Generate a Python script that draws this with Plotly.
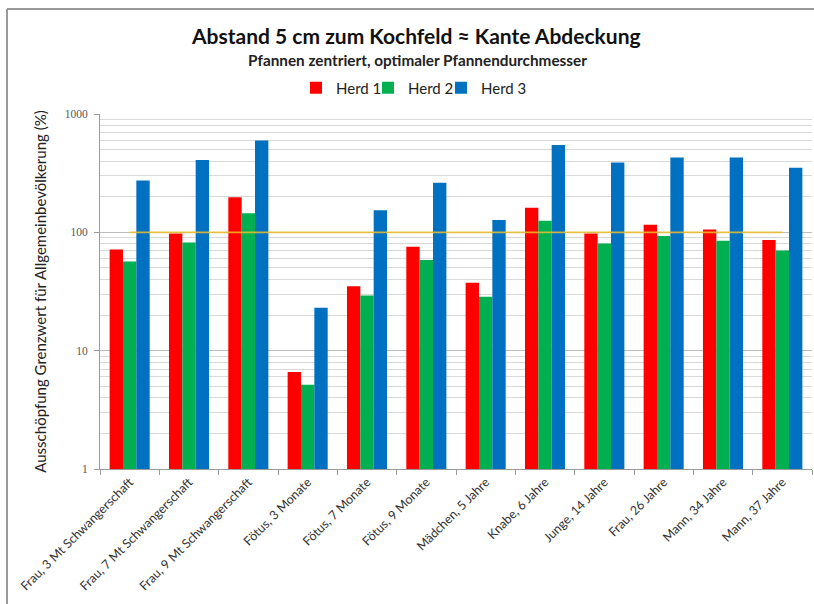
import plotly.graph_objects as go

categories = [
    "Frau, 3 Mt Schwangerschaft", "Frau, 7 Mt Schwangerschaft", "Frau, 9 Mt Schwangerschaft",
    "Fötus, 3 Monate", "Fötus, 7 Monate", "Fötus, 9 Monate", "Mädchen, 5 Jahre",
    "Knabe, 6 Jahre", "Junge, 14 Jahre", "Frau, 26 Jahre", "Mann, 34 Jahre", "Mann, 37 Jahre",
]
herd1 = [71.6, 97.7, 198, 6.6, 35.1, 75.4, 37.5, 161, 97.7, 116, 105.6, 86]
herd2 = [56.6, 82, 145, 5.15, 29.3, 58.3, 28.5, 125, 80.4, 93, 84.8, 70.2]
herd3 = [274, 409, 596, 23, 154, 263, 127, 548, 389, 428, 428, 351]
limit = [100] * len(categories)

series_names = ["Herd 1", "Herd 2", "Herd 3"]
colors = ["#FF0000", "#00B050", "#0070C0"]
legend_ids = ["legend", "legend2", "legend3"]

W, H = 814, 604
L, R, T, B = 100, 2, 114, 135
ph = H - T - B

def py(p):
    return (H - B - p) / ph

def px(p):
    return (p - L) / (W - L - R)

fig = go.Figure()
for name, vals, col, lg in zip(series_names, [herd1, herd2, herd3], colors, legend_ids):
    fig.add_trace(go.Bar(x=categories, y=vals, name=name, legend=lg,
                         marker=dict(color=col, line=dict(width=0))))

fig.add_trace(go.Scatter(x=categories, y=limit, mode="lines", showlegend=False,
                         line=dict(color="#EEBE2E", width=1.8), opacity=0.85, hoverinfo="skip"))

legend_x = [296, 368, 441]
legend_common = dict(orientation="h", xref="container", xanchor="left",
                     yref="container", y=1 - 88 / H, yanchor="middle",
                     font=dict(size=15, color="#222222"), itemwidth=30,
                     bgcolor="rgba(0,0,0,0)")

fig.update_layout(
    width=W, height=H,
    margin=dict(l=L, r=R, t=T, b=B, autoexpand=False),
    paper_bgcolor="white", plot_bgcolor="white",
    barmode="group", bargap=0.325, bargroupgap=0,
    font=dict(family="Lato, Open Sans, sans-serif", color="#222222"),
    legend=dict(x=legend_x[0] / W, **legend_common),
    legend2=dict(x=legend_x[1] / W, **legend_common),
    legend3=dict(x=legend_x[2] / W, **legend_common),
    showlegend=True,
    annotations=[
        dict(text="<b>Abstand 5 cm zum Kochfeld ≈ Kante Abdeckung</b>", xref="paper", yref="paper",
             x=px(416), y=py(35), xanchor="center", yanchor="middle", showarrow=False,
             font=dict(size=21, color="#111111")),
        dict(text="<b>Pfannen zentriert, optimaler Pfannendurchmesser</b>", xref="paper", yref="paper",
             x=px(417), y=py(60), xanchor="center", yanchor="middle", showarrow=False,
             font=dict(size=15.3, color="#222222")),
    ],
    shapes=[
        dict(type="line", xref="paper", yref="paper", x0=px(7), x1=px(814), y0=py(9), y1=py(9),
             line=dict(color="#9A9A9A", width=2)),
        dict(type="line", xref="paper", yref="paper", x0=px(7), x1=px(7), y0=py(9), y1=py(604),
             line=dict(color="#9A9A9A", width=2)),
    ],
)

fig.update_xaxes(
    type="category", tickson="boundaries", ticks="outside", ticklen=5, tickcolor="#9A9A9A",
    showline=True, linecolor="#9A9A9A", linewidth=1, tickangle=-45,
    tickfont=dict(size=12.5, color="#333333"), showgrid=False,
)
fig.update_yaxes(
    type="log", range=[0, 3], tickvals=[1, 10, 100, 1000], ticktext=["1", "10", "100", "1000"],
    ticks="outside", ticklen=5, tickcolor="#9A9A9A", ticklabelstandoff=4,
    showline=True, linecolor="#9A9A9A", linewidth=1,
    showgrid=True, gridcolor="#BEBEBE", gridwidth=1,
    minor=dict(showgrid=True, gridcolor="#D9D9D9", gridwidth=1,
               tickvals=[m * d for d in (1, 10, 100) for m in range(2, 10)]),
    tickfont=dict(size=11.5, color="#555555", family="Liberation Serif, serif"),
    title=dict(text="Ausschöpfung Grenzwert für Allgemeinbevölkerung (%)", standoff=14,
               font=dict(size=15, color="#222222")),
    zeroline=False,
)

fig.write_html("out.html", config={"displayModeBar": False},
               post_script="document.body.style.margin='0';document.body.style.overflow='hidden';")
